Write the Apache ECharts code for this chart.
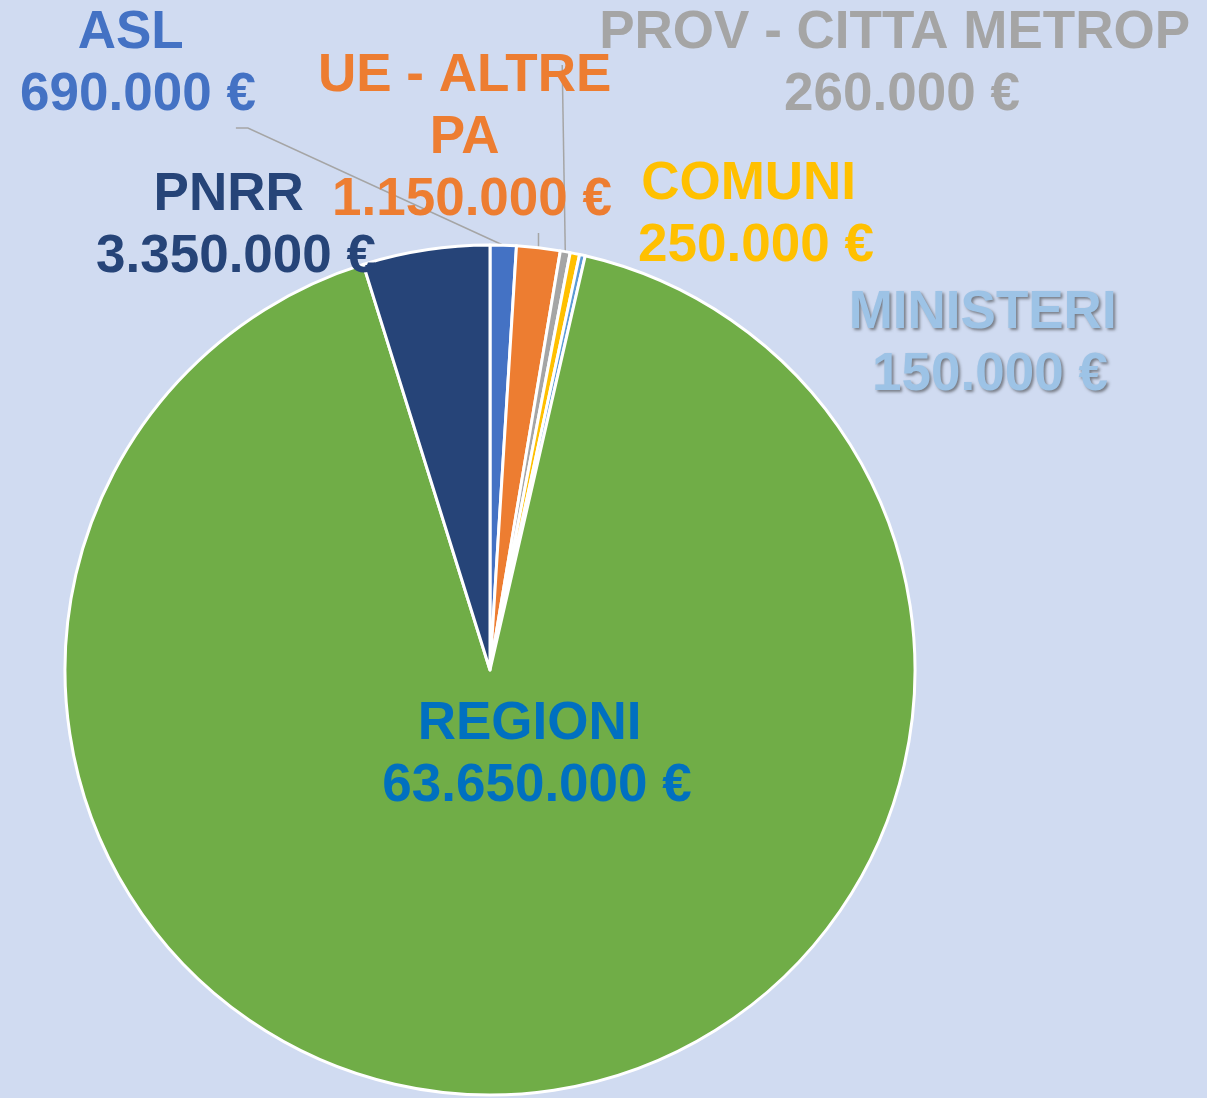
<!DOCTYPE html>
<html>
<head>
<meta charset="utf-8">
<script src="https://cdn.jsdelivr.net/npm/echarts@6/dist/echarts.min.js"></script>
<style>
  html, body { margin: 0; padding: 0; background: #D0DBF1; }
  #chart { width: 1207px; height: 1098px; }
</style>
</head>
<body>
<div id="chart"></div>
<script>
// Funding sources (euro), clockwise from 12 o'clock
const categories = ['ASL', 'UE - ALTRE\nPA', 'PROV - CITTA METROP', 'COMUNI', 'MINISTERI', 'REGIONI', 'PNRR'];
const amounts = [690000, 1150000, 260000, 250000, 150000, 63650000, 3350000];

const sliceColors = ['#4472C4', '#ED7D31', '#A5A5A5', '#FFC000', '#5B9BD5', '#70AD47', '#264478'];
const labelColors = ['#4472C4', '#ED7D31', '#A5A5A5', '#FFC000', '#9DC3E6', '#0070C0', '#264478'];

// Label block centres in pixels
const labelCenters = [[138, 64], [472, 138], [902, 64], [756, 215], [990, 344], [537, 755], [236, 226]];

function euro(v) {
  return String(v).replace(/\B(?=(\d{3})+(?!\d))/g, '.') + ' \u20AC';
}

// Name lines carry a trailing space, as in the source labels
function labelText(p) {
  return p.name.split('\n').map(function (s) { return s + ' '; }).join('\n') + '\n' + euro(p.value);
}

const chart = echarts.init(document.getElementById('chart'), null, { renderer: 'canvas' });

const data = categories.map(function (name, i) {
  const item = {
    name: name,
    value: amounts[i],
    itemStyle: { color: sliceColors[i] },
    label: { color: labelColors[i] },
    labelLine: { show: i <= 2 }
  };
  if (i === 4) {
    item.label.textShadowColor = 'rgba(50,50,50,0.55)';
    item.label.textShadowBlur = 3;
    item.label.textShadowOffsetX = 2;
    item.label.textShadowOffsetY = 2;
  }
  return item;
});

chart.setOption({
  backgroundColor: '#D0DBF1',
  animation: false,
  series: [{
    type: 'pie',
    center: [490, 670],
    radius: 425,
    startAngle: 90,
    clockwise: true,
    avoidLabelOverlap: false,
    itemStyle: { borderColor: '#FFFFFF', borderWidth: 3 },
    emphasis: { disabled: true },
    label: {
      show: true,
      position: 'outside',
      formatter: labelText,
      fontFamily: '"Liberation Sans", Arial, sans-serif',
      fontWeight: 'bold',
      fontSize: 53,
      lineHeight: 62,
      align: 'center'
    },
    labelLine: {
      lineStyle: { color: '#A5A5A5', width: 1.5 }
    },
    labelLayout: function (params) {
      const i = params.dataIndex;
      const cx = labelCenters[i][0];
      const cy = labelCenters[i][1];
      const w = params.labelRect.width;
      const h = params.labelRect.height;
      const out = { x: cx, y: cy, align: 'center', verticalAlign: 'middle' };
      const pts = params.labelLinePoints;
      if (pts && i <= 2) {
        const a = pts[0];
        const left = cx - w / 2, right = cx + w / 2, bottom = cy + h / 2;
        if (i === 0) {
          out.labelLinePoints = [a, [right - 8, bottom + 2], [right - 20, bottom + 2]];
        } else if (i === 1) {
          out.labelLinePoints = [a, [a[0], bottom + 2]];
        } else {
          out.labelLinePoints = [a, [left - 37, cy + 1]];
        }
      }
      return out;
    },
    data: data
  }]
});
</script>
</body>
</html>
